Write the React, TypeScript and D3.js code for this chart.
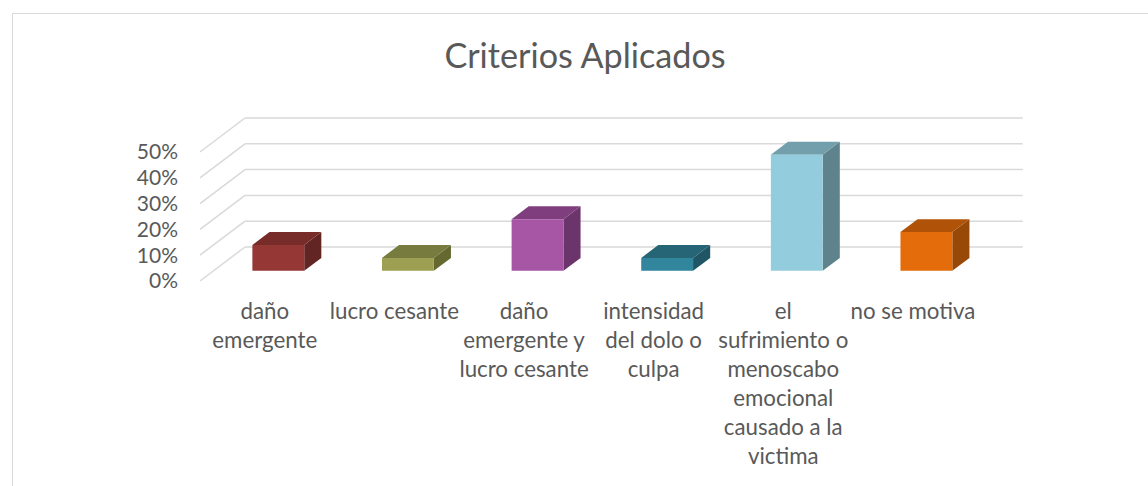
import React from "react";
import * as d3 from "d3";

const categories = [
  "daño\nemergente",
  "lucro cesante",
  "daño\nemergente y\nlucro cesante",
  "intensidad\ndel dolo o\nculpa",
  "el\nsufrimiento o\nmenoscabo\nemocional\ncausado a la\nvictima",
  "no se motiva",
];
const values = [0.10, 0.05, 0.20, 0.05, 0.45, 0.15];
const tickValues = [0, 0.1, 0.2, 0.3, 0.4, 0.5];
const title = "Criterios Aplicados";

const frontColors = ["#953735", "#9DA052", "#A755A5", "#31859C", "#93CDDD", "#E46C0A"];
const topColors = ["#772C2A", "#777B3D", "#7F3F7E", "#256575", "#729FAB", "#B05308"];
const sideColors = ["#632523", "#656930", "#6B346A", "#1F5564", "#5F838D", "#984807"];

const W = 1148;
const H = 486;
const DX = 45;
const DY = -34;
const Z0 = 0.3;
const Z1 = 0.68;
const FONT = "Lato, 'Open Sans', sans-serif";
const TEXT = "#595959";
const GRID = "#D9D9D9";

export default function App() {
  const x = d3
    .scaleBand<string>()
    .domain(categories)
    .range([200, 977.7])
    .paddingInner(0.6)
    .paddingOuter(0.3);
  const y = d3.scaleLinear().domain([0, 0.5]).range([281, 152]);
  const step = x.step();
  const left = 200;
  const right = 977.7;

  const proj = (px: number, v: number, z: number): [number, number] => [px + z * DX, y(v) + z * DY];
  const poly = (pts: [number, number][]) => pts.map((p) => p.join(",")).join(" ");

  return (
    <svg width={W} height={H} style={{ position: "absolute", left: 0, top: 0 }}>
      <rect x={0} y={0} width={W} height={H} fill="#fff" />
      <rect x={12.5} y={13.5} width={W + 20} height={H + 20} fill="none" stroke={GRID} strokeWidth={1} />
      <text x={585} y={68} textAnchor="middle" fontFamily={FONT} fontSize={34.2} fill={TEXT}>
        {title}
      </text>
      {tickValues.map((t) => {
        const [fx, fy] = proj(left, t, 0);
        const [bx, by] = proj(left, t, 1);
        const [ex, ey] = proj(right, t, 1);
        return (
          <g key={t}>
            <line x1={fx} y1={fy} x2={bx} y2={by} stroke={GRID} strokeWidth={1.5} />
            <line x1={bx} y1={by} x2={ex} y2={ey} stroke={GRID} strokeWidth={1.5} />
            <text
              x={178}
              y={fy}
              dy="0.35em"
              textAnchor="end"
              fontFamily={FONT}
              fontSize={21}
              fill={TEXT}
            >
              {d3.format(".0%")(t)}
            </text>
          </g>
        );
      })}
      {categories.map((c, i) => {
        const x0 = x(c)!;
        const x1 = x0 + x.bandwidth();
        const v = values[i];
        const front = poly([proj(x0, 0, Z0), proj(x1, 0, Z0), proj(x1, v, Z0), proj(x0, v, Z0)]);
        const top = poly([proj(x0, v, Z0), proj(x1, v, Z0), proj(x1, v, Z1), proj(x0, v, Z1)]);
        const side = poly([proj(x1, 0, Z0), proj(x1, 0, Z1), proj(x1, v, Z1), proj(x1, v, Z0)]);
        return (
          <g key={c}>
            <polygon points={side} fill={sideColors[i]} />
            <polygon points={top} fill={topColors[i]} />
            <polygon points={front} fill={frontColors[i]} />
          </g>
        );
      })}
      {categories.map((c, i) => {
        const cx = left + step * i + step / 2;
        return (
          <text key={c} textAnchor="middle" fontFamily={FONT} fontSize={22.3} fill={TEXT}>
            {c.split("\n").map((line, j) => (
              <tspan key={j} x={cx} y={319 + j * 29}>
                {line}
              </tspan>
            ))}
          </text>
        );
      })}
    </svg>
  );
}
